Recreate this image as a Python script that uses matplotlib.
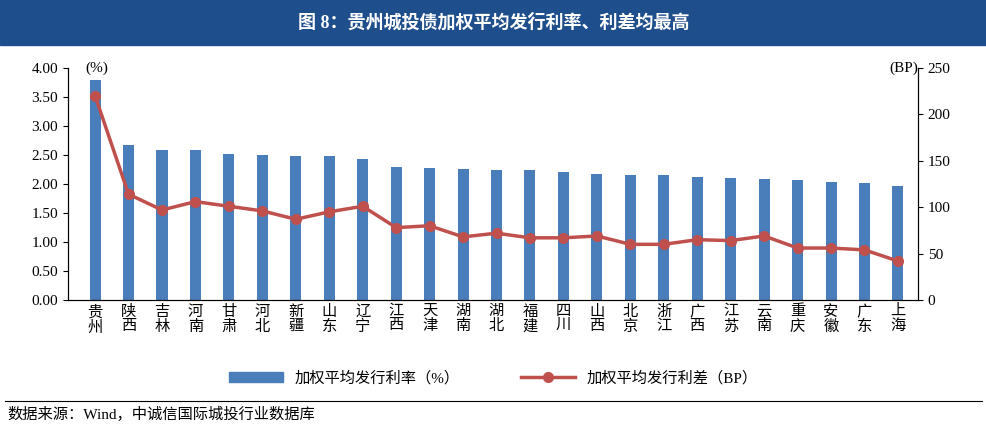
import matplotlib.pyplot as plt
from matplotlib.patches import Rectangle
from matplotlib.lines import Line2D

plt.rcParams['font.family'] = ['Liberation Serif', 'Noto Sans CJK SC']

provinces = ["贵州", "陕西", "吉林", "河南", "甘肃", "河北", "新疆", "山东", "辽宁", "江西",
             "天津", "湖南", "湖北", "福建", "四川", "山西", "北京", "浙江", "广西", "江苏",
             "云南", "重庆", "安徽", "广东", "上海"]
rate = [3.79, 2.67, 2.59, 2.58, 2.52, 2.50, 2.48, 2.48, 2.43, 2.29,
        2.28, 2.26, 2.24, 2.24, 2.21, 2.17, 2.16, 2.15, 2.12, 2.11,
        2.09, 2.07, 2.04, 2.02, 1.96]
spread = [220, 114, 97, 106, 101, 96, 87, 95, 101, 78,
          80, 68, 72, 67, 67, 69, 60, 60, 65, 64,
          69, 56, 56, 54, 42]

fig = plt.figure(figsize=(9.87, 4.3), dpi=100)
fig.patches.append(Rectangle((0, 1 - 45 / 430), 1, 45 / 430, transform=fig.transFigure,
                             color="#1f4e8c", zorder=0))
fig.text(0.5, 1 - 22 / 430, "图 8：贵州城投债加权平均发行利率、利差均最高", color="white",
         ha="center", va="center", fontsize=13, fontweight="bold")

ax = fig.add_axes([68 / 987, 130 / 430, 850 / 987, 232 / 430])
x = range(len(provinces))
ax.bar(x, rate, width=0.33, color="#4a7ebb")
ax.set_ylim(0, 4)
ax.set_yticks([i * 0.5 for i in range(9)])
ax.set_yticklabels([f"{i * 0.5:.2f}" for i in range(9)])
ax.set_xlim(-0.81, len(provinces) - 0.4)
ax.set_xticks(list(x))
ax.set_xticklabels(["\n".join(p) for p in provinces], fontsize=11, linespacing=1.1)
ax.tick_params(axis="x", length=0)
ax.tick_params(axis="y", labelsize=11)
ax.spines["top"].set_visible(False)
ax.text(0.02, 1.0, "(%)", transform=ax.transAxes, ha="left", va="center", fontsize=11)

ax2 = ax.twinx()
ax2.plot(x, spread, color="#c0504d", lw=2.5, marker="o", markersize=7)
ax2.set_ylim(0, 250)
ax2.set_yticks(range(0, 251, 50))
ax2.tick_params(axis="y", labelsize=11)
ax2.spines["top"].set_visible(False)
ax2.text(1.0, 1.0, "(BP)", transform=ax2.transAxes, ha="right", va="center", fontsize=11)

handles = [Rectangle((0, 0), 1, 1, color="#4a7ebb"),
           Line2D([], [], color="#c0504d", lw=2.5, marker="o", markersize=7)]
fig.legend(handles, ["加权平均发行利率（%）", "加权平均发行利差（BP）"],
           loc="center", bbox_to_anchor=(0.5, 1 - 378 / 430), ncol=2, frameon=False,
           fontsize=11, columnspacing=4, handlelength=3.5)

fig.add_artist(Line2D([0.005, 0.995], [1 - 401 / 430] * 2, color="black", lw=0.8))
fig.text(0.008, 1 - 414 / 430, "数据来源：Wind，中诚信国际城投行业数据库", fontsize=11,
         va="center", ha="left")

fig.savefig("out.png", dpi=100)
